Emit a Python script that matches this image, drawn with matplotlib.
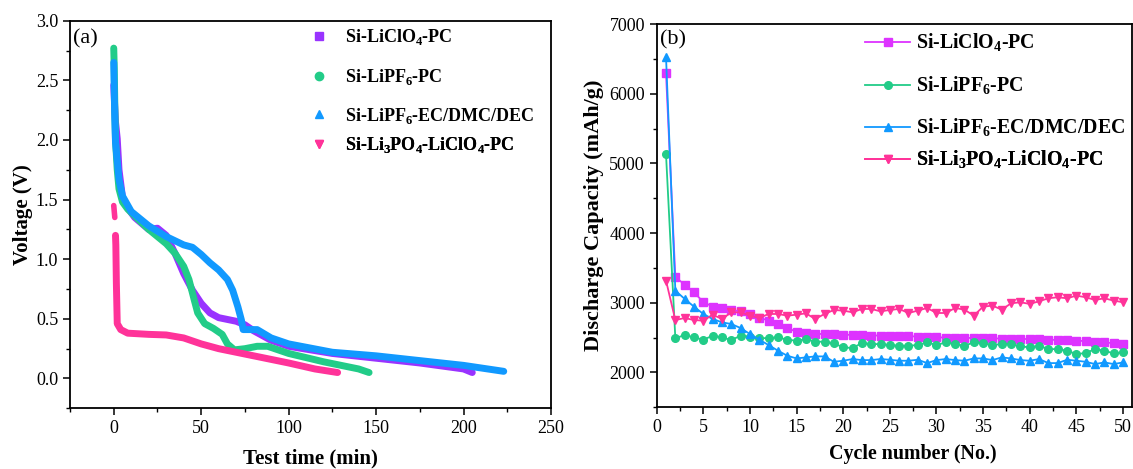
import matplotlib
matplotlib.use("Agg")
import matplotlib.pyplot as plt
from matplotlib.ticker import MultipleLocator, FormatStrFormatter
from matplotlib.lines import Line2D

plt.rcParams['font.family'] = ['Liberation Serif', 'DejaVu Serif']
plt.rcParams['mathtext.fontset'] = 'custom'
plt.rcParams['mathtext.rm'] = 'Liberation Serif'
plt.rcParams['mathtext.bf'] = 'Liberation Serif:bold'

# ---------------- Panel (a) data: discharge curves ----------------
t_clo4 = [0, 0.5, 1, 2, 3, 5, 8, 12, 20, 25, 30, 35, 40, 45, 50, 55, 60, 70, 75, 80, 90, 100, 125, 150, 175, 200, 205]
v_clo4 = [2.46, 2.3, 2.15, 2.01, 1.75, 1.52, 1.43, 1.35, 1.25, 1.26, 1.20, 1.05, 0.88, 0.74, 0.63, 0.55, 0.51, 0.48, 0.45, 0.40, 0.32, 0.27, 0.21, 0.17, 0.13, 0.08, 0.05]

t_pf6 = [0, 0.3, 0.6, 1, 2, 3, 5, 8, 15, 20, 25, 30, 35, 40, 43, 46, 48, 52, 57, 62, 65, 69, 75, 82, 88, 100, 120, 140, 146]
v_pf6 = [2.77, 2.6, 2.3, 2.0, 1.75, 1.59, 1.48, 1.42, 1.32, 1.25, 1.19, 1.13, 1.05, 0.94, 0.83, 0.66, 0.55, 0.46, 0.42, 0.37, 0.29, 0.24, 0.25, 0.27, 0.27, 0.21, 0.14, 0.08, 0.05]

t_ecdmc = [0, 0.3, 0.6, 1, 3, 5, 10, 20, 30, 40, 45, 50, 55, 60, 65, 68, 71, 73, 74, 78, 82, 90, 100, 125, 150, 175, 200, 223]
v_ecdmc = [2.65, 2.4, 2.18, 1.98, 1.67, 1.53, 1.40, 1.28, 1.19, 1.12, 1.10, 1.04, 0.97, 0.91, 0.83, 0.74, 0.60, 0.49, 0.41, 0.41, 0.41, 0.34, 0.29, 0.22, 0.19, 0.15, 0.11, 0.06]

t_li3po4_a = [0, 0.3, 0.6]
v_li3po4_a = [1.45, 1.40, 1.35]
t_li3po4 = [1.0, 1.2, 1.5, 2, 4, 8, 20, 30, 40, 50, 60, 70, 80, 100, 115, 128]
v_li3po4 = [1.20, 1.12, 0.80, 0.46, 0.41, 0.38, 0.37, 0.365, 0.34, 0.29, 0.25, 0.22, 0.19, 0.13, 0.08, 0.05]

# ---------------- Panel (b) data: cycling ----------------
cycles = list(range(1, 51))
cap_clo4 = [6290, 3370, 3260, 3150, 3010, 2945, 2920, 2900, 2875, 2840, 2785, 2745, 2690, 2635, 2585,
            2565, 2555, 2550, 2545, 2540, 2540, 2535, 2530, 2530, 2525, 2525, 2520, 2515, 2510, 2505,
            2500, 2500, 2495, 2495, 2490, 2490, 2485, 2485, 2480, 2480, 2475, 2470, 2465, 2460, 2455,
            2450, 2440, 2430, 2420, 2405]
cap_pf6 = [5130, 2490, 2537, 2503, 2470, 2527, 2503, 2465, 2527, 2513, 2490, 2494, 2503, 2470, 2455,
           2479, 2441, 2441, 2417, 2360, 2350, 2422, 2407, 2407, 2393, 2383, 2383, 2393, 2431, 2393,
           2431, 2407, 2383, 2431, 2422, 2393, 2407, 2407, 2374, 2360, 2383, 2335, 2335, 2312, 2264,
           2278, 2335, 2312, 2273, 2288]
cap_ecdmc = [6530, 3174, 3055, 2944, 2839, 2767, 2719, 2695, 2637, 2551, 2470, 2393, 2312, 2240, 2201,
             2216, 2230, 2230, 2153, 2168, 2192, 2177, 2177, 2192, 2182, 2168, 2168, 2182, 2134, 2177,
             2192, 2177, 2168, 2201, 2201, 2177, 2216, 2201, 2177, 2168, 2192, 2134, 2134, 2182, 2168,
             2153, 2120, 2144, 2120, 2144]
cap_li3po4 = [3318, 2752, 2781, 2752, 2743, 2829, 2767, 2863, 2863, 2815, 2781, 2839, 2839, 2815, 2829,
              2848, 2767, 2839, 2896, 2887, 2863, 2911, 2911, 2877, 2896, 2911, 2853, 2887, 2925, 2853,
              2853, 2925, 2901, 2815, 2944, 2959, 2901, 2992, 3007, 2983, 3021, 3064, 3079, 3064, 3102,
              3079, 3040, 3064, 3031, 3007]

labels = [r'Si-LiClO$_\mathbf{4}$-PC', r'Si-LiPF$_\mathbf{6}$-PC',
          r'Si-LiPF$_\mathbf{6}$-EC/DMC/DEC', r'Si-Li$_\mathbf{3}$PO$_\mathbf{4}$-LiClO$_\mathbf{4}$-PC']

col_a = ['#9933FF', '#22CC88', '#1199FF', '#FF3399']
col_b = ['#DD33FF', '#22CC88', '#1199FF', '#FF3399']
markers = ['s', 'o', '^', 'v']

fig = plt.figure(figsize=(11.33, 4.69), dpi=100)
ax1 = fig.add_axes([0.0618, 0.1294, 0.4245, 0.8265])
ax2 = fig.add_axes([0.5796, 0.1316, 0.4198, 0.8172])

# ---- panel (a)
series_a = [(t_clo4, v_clo4), (t_pf6, v_pf6), (t_ecdmc, v_ecdmc)]
for (t, v), c in zip(series_a, col_a[:3]):
    ax1.plot(t, v, color=c, lw=5, solid_capstyle='round', solid_joinstyle='round')
ax1.plot(t_li3po4_a, v_li3po4_a, color=col_a[3], lw=4, solid_capstyle='round')
ax1.plot(t_li3po4, v_li3po4, color=col_a[3], lw=5, solid_capstyle='round', solid_joinstyle='round')

ax1.set_xlim(-25, 250)
ax1.set_ylim(-0.25, 3.0)
ax1.xaxis.set_major_locator(MultipleLocator(50))
ax1.xaxis.set_minor_locator(MultipleLocator(25))
ax1.yaxis.set_major_locator(MultipleLocator(0.5))
ax1.yaxis.set_minor_locator(MultipleLocator(0.25))
ax1.yaxis.set_major_formatter(FormatStrFormatter('%.1f'))
ax1.set_xlabel('Test time (min)', fontsize=15, fontweight='bold', labelpad=8)
ax1.set_ylabel('Voltage (V)', fontsize=15, fontweight='bold', labelpad=2)
ax1.text(0.006, 0.978, '(a)', transform=ax1.transAxes, fontsize=16, va='top', ha='left')

rows_a = [0.957, 0.855, 0.755, 0.679]
for c, m, lab, yy in zip(col_a, markers, labels, rows_a):
    h = Line2D([], [], ls='none', marker=m, color=c, ms=6)
    lg = ax1.legend([h], [lab], loc='center left', bbox_to_anchor=(0.4996, yy), frameon=False,
                    handlelength=1.0, handletextpad=0.92, borderpad=0, borderaxespad=0,
                    prop={'weight': 'bold', 'size': 13})
    ax1.add_artist(lg)

# ---- panel (b)
series_b = [cap_clo4, cap_pf6, cap_ecdmc, cap_li3po4]
for y, c, m in zip(series_b, col_b, markers):
    ax2.plot(cycles, y, color=c, marker=m, ms=5.5, lw=1.3)

ax2.set_xlim(0, 51)
ax2.set_ylim(1500, 7000)
ax2.xaxis.set_major_locator(MultipleLocator(5))
ax2.xaxis.set_minor_locator(MultipleLocator(2.5))
ax2.yaxis.set_major_locator(MultipleLocator(1000))
ax2.yaxis.set_minor_locator(MultipleLocator(500))
ax2.set_xlabel('Cycle number (No.)', fontsize=14.4, fontweight='bold')
ax2.xaxis.set_label_coords(0.538, -0.095)
ax2.set_ylabel('Discharge Capacity (mAh/g)', fontsize=16, fontweight='bold', labelpad=4)
ax2.text(0.006, 0.985, '(b)', transform=ax2.transAxes, fontsize=16, va='top', ha='left')

rows_b = [0.951, 0.839, 0.7295, 0.645]
for c, m, lab, yy in zip(col_b, markers, labels, rows_b):
    h = Line2D([], [], color=c, marker=m, ms=5.5, lw=1.3)
    lg = ax2.legend([h], [lab], loc='center left', bbox_to_anchor=(0.438, yy), frameon=False,
                    handlelength=2.27, handletextpad=0.29, borderpad=0, borderaxespad=0,
                    prop={'weight': 'bold', 'size': 14.3})
    ax2.add_artist(lg)

for ax in (ax1, ax2):
    for s in ax.spines.values():
        s.set_linewidth(1.3)
    ax.tick_params(which='major', direction='out', length=5, width=1.1, labelsize=13)
    ax.tick_params(which='minor', direction='out', length=3, width=1.0)

fig.savefig('out.png', dpi=100)
